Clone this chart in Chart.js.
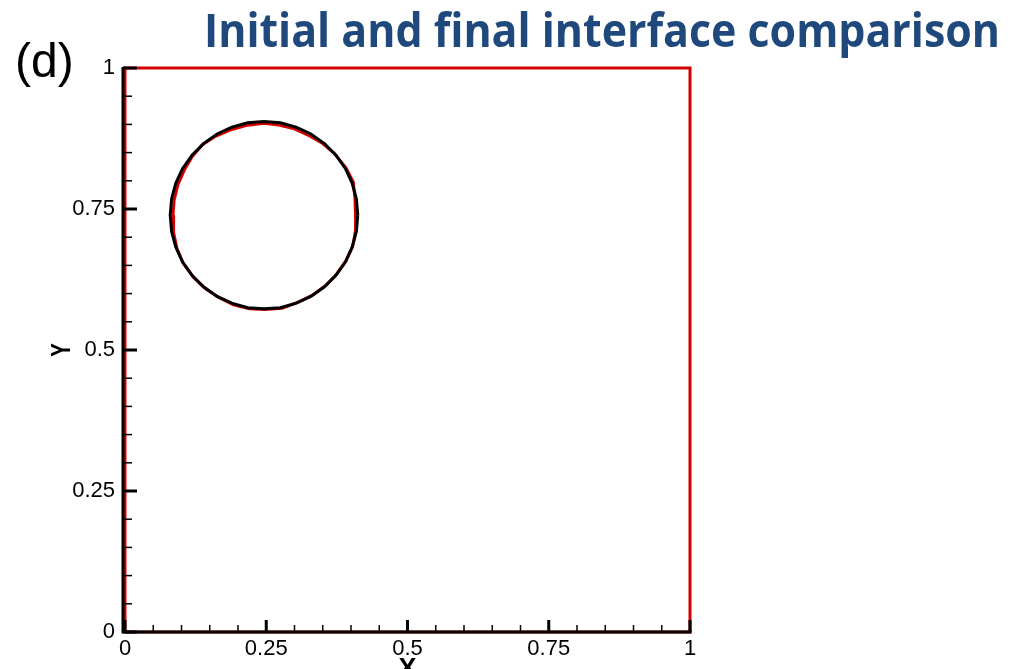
<!DOCTYPE html>
<html>
<head>
<meta charset="utf-8">
<title>Initial and final interface comparison</title>
<script src="https://cdn.jsdelivr.net/npm/chart.js@4.4.1/dist/chart.umd.min.js"></script>
<style>
  html, body { margin: 0; padding: 0; background: #fff; }
  #wrap { width: 1011px; height: 669px; position: relative; }
</style>
</head>
<body>
<div id="wrap"><canvas id="chart-canvas" width="1011" height="669"></canvas></div>
<script>
// interface points (x, y)
const finalX = [0.412, 0.4095, 0.402, 0.390, 0.373, 0.353, 0.329, 0.303, 0.275, 0.246,
  0.217, 0.189, 0.163, 0.139, 0.119, 0.102, 0.090, 0.0825, 0.080, 0.0825,
  0.090, 0.102, 0.119, 0.139, 0.163, 0.189, 0.217, 0.246, 0.275, 0.303,
  0.329, 0.353, 0.373, 0.390, 0.402, 0.4095, 0.412];
const finalY = [0.739, 0.768, 0.796, 0.822, 0.846, 0.866, 0.883, 0.895, 0.903, 0.905,
  0.903, 0.895, 0.883, 0.866, 0.846, 0.822, 0.796, 0.768, 0.739, 0.710,
  0.682, 0.656, 0.632, 0.612, 0.595, 0.583, 0.575, 0.573, 0.575, 0.583,
  0.595, 0.612, 0.632, 0.656, 0.682, 0.710, 0.739];

const initialX = [0.408, 0.407, 0.404, 0.391, 0.371, 0.350, 0.326, 0.300, 0.272, 0.246,
  0.214, 0.186, 0.160, 0.137, 0.119, 0.105, 0.094, 0.087, 0.085, 0.086,
  0.092, 0.103, 0.121, 0.142, 0.166, 0.192, 0.220, 0.248, 0.278, 0.307,
  0.333, 0.356, 0.374, 0.391, 0.403, 0.408, 0.408];
const initialY = [0.739, 0.770, 0.798, 0.823, 0.848, 0.866, 0.880, 0.892, 0.899, 0.902,
  0.898, 0.890, 0.879, 0.864, 0.843, 0.819, 0.794, 0.766, 0.739, 0.708,
  0.680, 0.654, 0.629, 0.609, 0.593, 0.580, 0.573, 0.572, 0.574, 0.585,
  0.598, 0.615, 0.634, 0.658, 0.684, 0.712, 0.739];

// domain boundary
const frameX = [0, 0, 1, 1, 0];
const frameY = [0, 1, 1, 0, 0];

// axis ticks
const majorTicks = [0, 0.25, 0.5, 0.75, 1];
const tickStep = 0.05;

const FONT = '"Liberation Sans", Arial, sans-serif';

function toPoints(xs, ys) {
  return xs.map((x, i) => ({ x: x, y: ys[i] }));
}

function isMajor(v) {
  return majorTicks.some(m => Math.abs(m - v) < 1e-6);
}

function tickLabel(v) {
  if (!isMajor(v)) return '';
  return String(Math.round(v * 100) / 100);
}

// Tecplot style frame: black axes, inward ticks, titles
const framePlugin = {
  id: 'tecplotFrame',
  afterDatasetsDraw(chart) {
    const ctx = chart.ctx;
    const xs = chart.scales.x;
    const ys = chart.scales.y;
    const left = xs.getPixelForValue(0);
    const bottom = ys.getPixelForValue(0);
    const top = ys.getPixelForValue(1);
    const right = xs.getPixelForValue(1);

    ctx.save();
    ctx.strokeStyle = '#000';
    ctx.lineCap = 'butt';

    // axis lines
    ctx.lineWidth = 3;
    ctx.beginPath();
    ctx.moveTo(left - 2, top - 1);
    ctx.lineTo(left - 2, bottom + 1.5);
    ctx.moveTo(left - 3.5, bottom);
    ctx.lineTo(right + 1.5, bottom);
    ctx.stroke();

    // inward ticks
    xs.ticks.forEach(t => {
      const px = xs.getPixelForValue(t.value);
      const major = isMajor(t.value);
      ctx.lineWidth = major ? 3 : 1.5;
      ctx.beginPath();
      ctx.moveTo(px, bottom);
      ctx.lineTo(px, bottom - (major ? 12 : 7));
      ctx.stroke();
    });
    ys.ticks.forEach(t => {
      const py = ys.getPixelForValue(t.value);
      const major = isMajor(t.value);
      ctx.lineWidth = major ? 3 : 1.5;
      ctx.beginPath();
      ctx.moveTo(left - 2, py);
      ctx.lineTo(left + (major ? 12 : 7), py);
      ctx.stroke();
    });

    // axis titles
    ctx.fillStyle = '#000';
    ctx.font = 'bold 27px ' + FONT;
    ctx.textAlign = 'center';
    ctx.textBaseline = 'top';
    ctx.fillText('X', (left + right) / 2, 656);
    ctx.save();
    ctx.translate(63, ys.getPixelForValue(0.5));
    ctx.rotate(-Math.PI / 2);
    ctx.scale(0.75, 1);
    ctx.textBaseline = 'middle';
    ctx.fillText('Y', 0, 0);
    ctx.restore();

    // panel letter
    ctx.font = '48px ' + FONT;
    ctx.textAlign = 'left';
    ctx.textBaseline = 'alphabetic';
    ctx.fillText('(d)', 15, 77);

    // heading
    const heading = 'Initial and final interface comparison';
    ctx.font = 'bold 47px "Open Sans", ' + FONT;
    ctx.fillStyle = '#1f497d';
    const w = ctx.measureText(heading).width;
    ctx.translate(204, 47);
    ctx.scale(796 / w, 1);
    ctx.fillText(heading, 0, 0);
    ctx.restore();
  }
};

const axisCommon = {
  type: 'linear',
  min: 0,
  max: 1,
  border: { display: false },
  grid: { display: false, drawTicks: false },
  ticks: {
    stepSize: tickStep,
    autoSkip: false,
    maxRotation: 0,
    color: '#000',
    font: { family: FONT, size: 22 },
    callback: v => tickLabel(v)
  }
};

const ctx = document.getElementById('chart-canvas').getContext('2d');
const chart = new Chart(ctx, {
  type: 'scatter',
  data: {
    datasets: [
      {
        label: 'Final',
        data: toPoints(finalX, finalY),
        showLine: true,
        borderColor: '#000',
        borderWidth: 3,
        pointRadius: 0,
        tension: 0
      },
      {
        label: 'Initial',
        data: toPoints(initialX, initialY),
        showLine: true,
        borderColor: '#d40000',
        borderWidth: 3,
        pointRadius: 0,
        tension: 0
      },
      {
        label: 'Boundary',
        data: toPoints(frameX, frameY),
        showLine: true,
        borderColor: '#d40000',
        borderWidth: 3,
        pointRadius: 0,
        clip: false
      }
    ]
  },
  options: {
    responsive: false,
    animation: false,
    layout: { padding: { left: 0, right: 321, top: 68, bottom: 0 } },
    plugins: {
      legend: { display: false },
      tooltip: { enabled: false },
      title: { display: false }
    },
    scales: {
      x: Object.assign({}, axisCommon, {
        position: 'bottom',
        ticks: Object.assign({}, axisCommon.ticks, { padding: 4 }),
        afterFit: s => { s.height = 37; }
      }),
      y: Object.assign({}, axisCommon, {
        position: 'left',
        ticks: Object.assign({}, axisCommon.ticks, { padding: 10 }),
        afterFit: s => { s.width = 125; }
      })
    }
  },
  plugins: [framePlugin]
});
</script>
</body>
</html>
